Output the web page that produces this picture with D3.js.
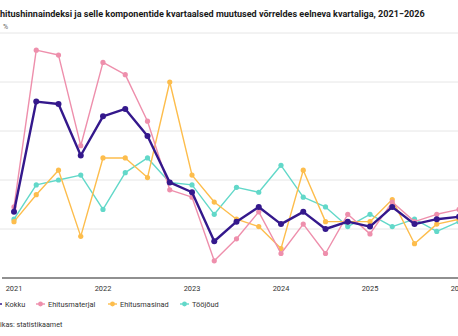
<!DOCTYPE html>
<html>
<head>
<meta charset="utf-8">
<script src="https://cdn.jsdelivr.net/npm/d3@7"></script>
<style>
  html, body { margin: 0; padding: 0; background: #fff; overflow: hidden; }
  svg { display: block; font-family: Roboto, "Noto Sans", sans-serif; }
</style>
</head>
<body>
<div id="chart"></div>
<script>
// quarterly change vs previous quarter, %
const quarters = ["2021 I", "2021 II", "2021 III", "2021 IV", "2022 I", "2022 II", "2022 III", "2022 IV",
  "2023 I", "2023 II", "2023 III", "2023 IV", "2024 I", "2024 II", "2024 III", "2024 IV",
  "2025 I", "2025 II", "2025 III", "2025 IV", "2026 I"];
const kokku = [0.7, 5.2, 5.1, 3.0, 4.6, 4.9, 3.8, 1.9, 1.5, -0.5, 0.3, 0.9, 0.2, 0.7, 0.0, 0.3, 0.1, 0.9, 0.2, 0.4, 0.5];
const ehitusmaterjal = [0.9, 7.3, 7.1, 3.4, 6.8, 6.3, 4.4, 1.6, 1.3, -1.3, -0.4, 0.7, -1.0, 0.2, -1.0, 0.6, -0.2, 1.1, 0.3, 0.6, 0.8];
const ehitusmasinad = [0.3, 1.4, 2.4, -0.3, 2.9, 2.9, 2.1, 6.0, 2.2, 1.1, 0.4, 0.1, -0.8, 2.4, 0.3, 0.3, 0.3, 1.2, -0.6, 0.2, 0.4];
const toojoud = [0.4, 1.8, 2.0, 2.2, 0.8, 2.3, 2.9, 1.9, 1.8, 0.6, 1.7, 1.5, 2.6, 1.3, 0.9, 0.1, 0.6, 0.1, 0.4, -0.1, 0.3];
const yTicks = [-2, 0, 2, 4, 6, 8];
const yearLabels = ["2021", "2022", "2023", "2024", "2025", "2026"];

const series = [
  { name: "Kokku", values: kokku, color: "#34188c", width: 2.4, r: 3 },
  { name: "Ehitusmaterjal", values: ehitusmaterjal, color: "#ee8fac", width: 1.4, r: 2.6 },
  { name: "Ehitusmasinad", values: ehitusmasinad, color: "#fdbd4c", width: 1.4, r: 2.6 },
  { name: "Tööjõud", values: toojoud, color: "#62d8c9", width: 1.4, r: 2.6 }
];

const width = 458, height = 336;
const svg = d3.select("#chart").append("svg")
  .attr("width", width)
  .attr("height", height);

// title; its first letter sits just past the left edge
const title = svg.append("text")
  .attr("y", 17)
  .attr("fill", "#1a1a1a")
  .style("font-size", "10px")
  .style("font-weight", "bold")
  .text("Ehitushinnaindeksi ja selle komponentide kvartaalsed muutused võrreldes eelneva kvartaliga, 2021−2026");
{
  const n = title.node();
  const rest = n.getComputedTextLength() - n.getSubStringLength(0, 1);
  title.style("font-size", (10 * 425 / rest).toFixed(2) + "px");
  title.attr("x", -n.getSubStringLength(0, 1));
}

svg.append("text")
  .attr("x", 3)
  .attr("y", 29)
  .attr("fill", "#666")
  .style("font-size", "7px")
  .text("%");

const x = d3.scalePoint()
  .domain(quarters)
  .range([14, 14 + 22.25 * (quarters.length - 1)]);

const y = d3.scaleLinear()
  .domain([-2, 8])
  .range([278, 33]);

// grid
svg.append("g")
  .selectAll("line")
  .data(yTicks.filter(d => d !== -2))
  .join("line")
  .attr("x1", 0).attr("x2", width)
  .attr("y1", d => y(d)).attr("y2", d => y(d))
  .attr("stroke", "#e6e6e6")
  .attr("stroke-width", 1);

// x axis baseline
svg.append("line")
  .attr("x1", 2).attr("x2", width)
  .attr("y1", y(-2)).attr("y2", y(-2))
  .attr("stroke", "#6b6b6b")
  .attr("stroke-width", 1.3);

svg.append("g")
  .selectAll("text")
  .data(yearLabels)
  .join("text")
  .attr("x", d => x(d + " I"))
  .attr("y", 291)
  .attr("text-anchor", "middle")
  .attr("fill", "#333")
  .style("font-size", "7.4px")
  .text(d => d);

const line = d3.line()
  .x((d, i) => x(quarters[i]))
  .y(d => y(d));

// draw the thin series first, total on top
const order = [series[3], series[2], series[1], series[0]];
const g = svg.append("g");
order.forEach(s => {
  const sg = g.append("g");
  sg.append("path")
    .attr("d", line(s.values))
    .attr("fill", "none")
    .attr("stroke", s.color)
    .attr("stroke-width", s.width)
    .attr("stroke-linejoin", "round");
  sg.selectAll("circle")
    .data(s.values)
    .join("circle")
    .attr("cx", (d, i) => x(quarters[i]))
    .attr("cy", d => y(d))
    .attr("r", s.r)
    .attr("fill", s.color);
});

// legend
const legendX = [-7, 36, 108, 180];
const legend = svg.append("g")
  .selectAll("g")
  .data(series)
  .join("g")
  .attr("transform", (d, i) => `translate(${legendX[i]},304)`);
legend.append("line")
  .attr("x1", 0).attr("x2", 9)
  .attr("stroke", d => d.color)
  .attr("stroke-width", 1.4);
legend.append("circle")
  .attr("cx", 4.5)
  .attr("r", 2.4)
  .attr("fill", d => d.color);
legend.append("text")
  .attr("x", 12)
  .attr("y", 2.7)
  .attr("fill", "#333")
  .style("font-size", "7.4px")
  .text(d => d.name);

const source = svg.append("text")
  .attr("y", 327)
  .attr("fill", "#333")
  .style("font-size", "7.2px")
  .text("Allikas: statistikaamet");
source.attr("x", -source.node().getSubStringLength(0, 3));
</script>
</body>
</html>
